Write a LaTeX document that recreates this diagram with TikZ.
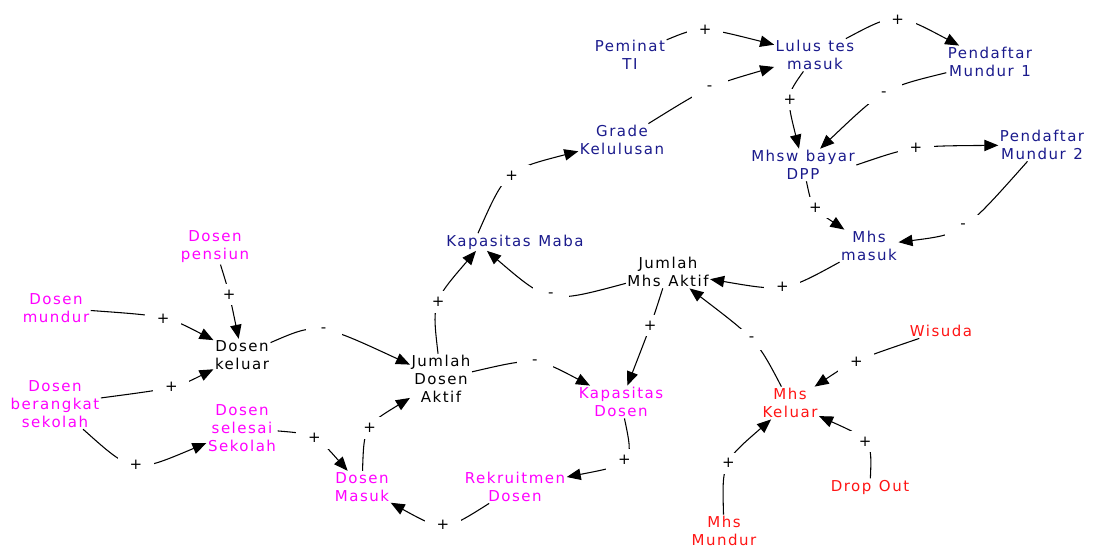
\documentclass[tikz,border=0pt]{standalone}
\usepackage{fontspec}
\setmainfont{DejaVu Sans}[LetterSpace=10,WordSpace=1.2]
\usepackage{tikz}
\usetikzlibrary{arrows.meta,calc}
\definecolor{navy}{RGB}{26,26,140}
\definecolor{mgt}{RGB}{255,0,255}
\definecolor{rd}{RGB}{255,20,20}

\begin{document}
\begin{tikzpicture}[x=0.75pt,y=-0.75pt,
  font=\fontsize{11.25}{13.5}\selectfont,
  var/.style={align=center,inner sep=1pt},
  arr/.style={-{Triangle[length=10.5pt,width=8.5pt]},line width=0.8pt},
  sgn/.style={fill=white,inner sep=0pt,minimum width=27pt,minimum height=16pt}]
\useasboundingbox (0,0) rectangle (1093,550);
% mahasiswa
\node[var,navy] (pmt) at (630,55) {Peminat\\TI};
\node[var,navy] (lts) at (815,55) {Lulus tes\\masuk};
\node[var,navy] (pm1) at (990,62) {Pendaftar\\Mundur 1};
\node[var,navy] (grd) at (622,140) {Grade\\Kelulusan};
\node[var,navy] (dpp) at (803,165) {Mhsw bayar\\DPP};
\node[var,navy] (pm2) at (1042,145) {Pendaftar\\Mundur 2};
\node[var,navy] (mms) at (869,246) {Mhs\\masuk};
\node[var,navy] (kmb) at (515,242) {Kapasitas Maba};
\node[var] (jma) at (668,272) {Jumlah\\Mhs Aktif};
\node[var,rd] (wsd) at (941,331) {Wisuda};
\node[var,rd] (mkl) at (790,403) {Mhs\\Keluar};
\node[var,rd] (dro) at (870,487) {Drop Out};
\node[var,rd] (mmd) at (724,531) {Mhs\\Mundur};
% dosen
\node[var,mgt] (dpn) at (215,247) {Dosen\\pensiun};
\node[var,mgt] (dmd) at (56,308) {Dosen\\mundur};
\node[var] (dkl) at (242,355) {Dosen\\keluar};
\node[var] (jda) at (441,379) {Jumlah\\Dosen\\Aktif};
\node[var,mgt] (kds) at (621,402) {Kapasitas\\Dosen};
\node[var,mgt] (dbs) at (55,404) {Dosen\\berangkat\\sekolah};
\node[var,mgt] (dss) at (242,428) {Dosen\\selesai\\Sekolah};
\node[var,mgt] (dms) at (362,487) {Dosen\\Masuk};
\node[var,mgt] (rkd) at (515,487) {Rekruitmen\\Dosen};
% links mahasiswa
\draw[arr] (pmt) .. controls (700,26) .. (lts) node[sgn,pos=.5] (s1) {+};
\draw[arr] (grd) .. controls (709,86) .. (lts) node[sgn,pos=.5] (s2) {-};
\draw[arr] (lts) .. controls (896,12) .. (pm1) node[sgn,pos=.5] (s3) {+};
\draw[arr] (lts) .. controls (786,96) .. (dpp) node[sgn,pos=.5] (s4) {+};
\draw[arr] (pm1) .. controls (884,88) .. (dpp) node[sgn,pos=.5] (s5) {-};
\draw[arr] (dpp.east) .. controls (912,146) .. (pm2) node[sgn,pos=.5] (s6) {+};
\draw[arr] (dpp) .. controls (812,208) .. (mms) node[sgn,pos=.5] (s7) {+};
\draw[arr] (pm2) .. controls (963,234) .. (mms) node[sgn,pos=.5] (s8) {-};
\draw[arr] (mms) .. controls (785,292) .. (jma) node[sgn,pos=.5] (s9) {+};
\draw[arr] (jma) .. controls (549,304) .. ($(kmb.south)+(-28,0)$) node[sgn,pos=.5] (s10) {-};
\draw[arr] ($(kmb.north)+(-37,0)$) .. controls (506,170) .. (grd) node[sgn,pos=.5] (s11) {+};
\draw[arr] (jda) .. controls (432,302) .. ($(kmb.south)+(-39,0)$) node[sgn,pos=.5] (s12) {+};
\draw[arr] (jma) .. controls (652,322) .. (kds) node[sgn,pos=.5] (s13) {+};
\draw[arr] (mkl) .. controls (757,340) .. (jma) node[sgn,pos=.5] (s14) {-};
\draw[arr] (wsd) .. controls (853,361) .. (mkl) node[sgn,pos=.5] (s15) {+};
\draw[arr] (dro) .. controls (872,440) .. (mkl) node[sgn,pos=.5] (s16) {+};
\draw[arr] (mmd) .. controls (722,462) .. (mkl) node[sgn,pos=.5] (s17) {+};
% links dosen
\draw[arr] (jda) .. controls (536,357) .. (kds) node[sgn,pos=.5] (s18) {-};
\draw[arr] (kds) .. controls (634,464) .. (rkd) node[sgn,pos=.5] (s19) {+};
\draw[arr] (rkd) .. controls (444,532) .. (dms) node[sgn,pos=.5] (s20) {+};
\draw[arr] (dms) .. controls (364,426) .. (jda) node[sgn,pos=.5] (s21) {+};
\draw[arr] (dss) .. controls (315,434) .. (dms) node[sgn,pos=.5] (s22) {+};
\draw[arr] (dbs) .. controls (133,474) .. (dss) node[sgn,pos=.5] (s23) {+};
\draw[arr] (dbs) .. controls (176,388) .. (dkl) node[sgn,pos=.5] (s24) {+};
\draw[arr] (dmd) .. controls (167,316) .. (dkl) node[sgn,pos=.5] (s25) {+};
\draw[arr] (dpn) .. controls (229,292) .. (dkl) node[sgn,pos=.5] (s26) {+};
\draw[arr] (dkl) .. controls (318,322) .. (jda) node[sgn,pos=.5] (s27) {-};
\end{tikzpicture}
\end{document}
